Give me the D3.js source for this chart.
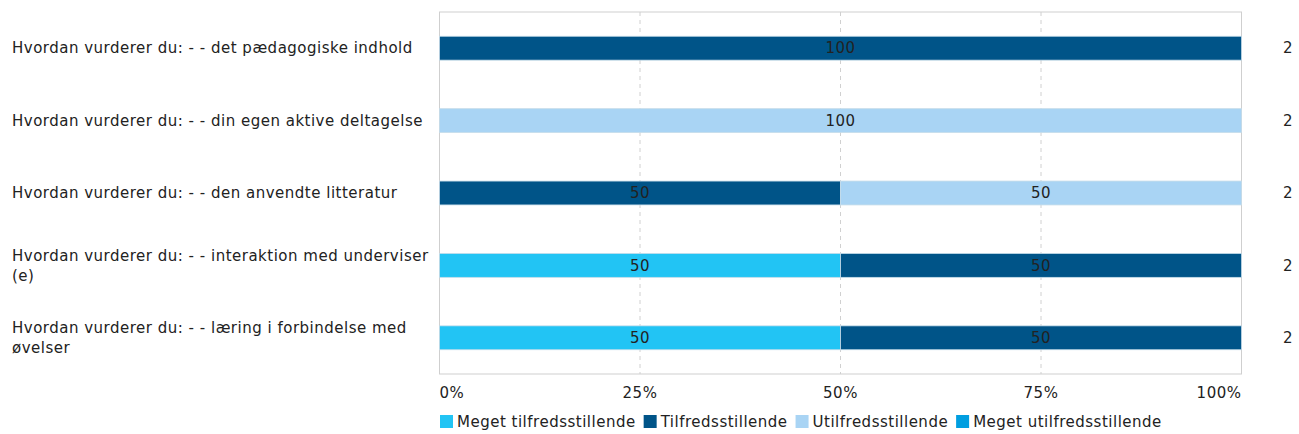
<!DOCTYPE html>
<html><head><meta charset="utf-8">
<script src="https://cdn.jsdelivr.net/npm/d3@7/dist/d3.min.js"></script>
<style>
body{margin:0;background:#fff;}
text{letter-spacing:0.5px;}
</style></head>
<body><svg id="c" width="1299" height="434" font-family="DejaVu Sans" fill="#222"></svg>
<script>
const categories = [
  "Hvordan vurderer du: - - det pædagogiske indhold",
  "Hvordan vurderer du: - - din egen aktive deltagelse",
  "Hvordan vurderer du: - - den anvendte litteratur",
  "Hvordan vurderer du: - - interaktion med underviser (e)",
  "Hvordan vurderer du: - - læring i forbindelse med øvelser"
];
const seriesNames = ["Meget tilfredsstillende","Tilfredsstillende","Utilfredsstillende","Meget utilfredsstillende"];
const seriesColors = ["#22c4f4","#005488","#a9d4f4","#009ee0"];
const megetTilfreds = [0,0,0,50,50];
const tilfreds = [100,0,50,50,50];
const utilfreds = [0,100,50,0,0];
const megetUtilfreds = [0,0,0,0,0];
const counts = [2,2,2,2,2];
const tickValues = [0,25,50,75,100];
const tickLabels = ["0%","25%","50%","75%","100%"];

const values = [megetTilfreds, tilfreds, utilfreds, megetUtilfreds];
const svg = d3.select("#c");
const L = 439.5, R = 1241.5, T = 12, B = 374;
const x = d3.scaleLinear().domain([0,100]).range([L,R]);
const y = d3.scaleBand().domain(categories).range([T,B]).paddingInner(0.67).paddingOuter(0.335);
const fs = 15;

svg.append("rect").attr("x",L).attr("y",T).attr("width",R-L).attr("height",B-T)
  .attr("fill","none").attr("stroke","#cfcfcf").attr("stroke-width",1);
svg.append("g").selectAll("line").data(tickValues.slice(1,-1)).join("line")
  .attr("x1",d=>x(d)).attr("x2",d=>x(d)).attr("y1",T).attr("y2",B)
  .attr("stroke","#d0d0d0").attr("stroke-dasharray","4,4");

const rows = categories.map((c,i)=>{
  let acc=0; const segs=[];
  values.forEach((s,k)=>{ const v=s[i]; if(v>0){segs.push({cat:c,k,v,x0:acc,x1:acc+v});} acc+=v; });
  return segs;
}).flat();

svg.append("g").selectAll("rect").data(rows).join("rect")
  .attr("x",d=>x(d.x0)).attr("width",d=>x(d.x1)-x(d.x0))
  .attr("y",d=>y(d.cat)).attr("height",y.bandwidth())
  .attr("fill",d=>seriesColors[d.k]).attr("stroke","#c6dcea").attr("stroke-width",0.8);

svg.append("g").selectAll("text").data(rows).join("text")
  .attr("x",d=>x((d.x0+d.x1)/2)).attr("y",d=>y(d.cat)+y.bandwidth()/2)
  .attr("dy","0.35em").attr("text-anchor","middle").attr("font-size",fs).text(d=>d.v);

const maxW = 428;
categories.forEach(c=>{
  const t = svg.append("text").attr("x",12).attr("font-size",fs);
  const words = c.split(" ");
  let lines=[]; let line=[];
  const tmp = t.append("tspan");
  words.forEach(w=>{
    line.push(w); tmp.text(line.join(" "));
    if(tmp.node().getComputedTextLength()>maxW && line.length>1){ line.pop(); lines.push(line.join(" ")); line=[w]; }
  });
  lines.push(line.join(" "));
  tmp.remove();
  const lh = 20, cy = y(c)+y.bandwidth()/2;
  const start = cy - (lines.length-1)*lh/2;
  lines.forEach((l,i)=>t.append("tspan").attr("x",12).attr("y",start+i*lh).attr("dy","0.35em").text(l));
});

svg.append("g").selectAll("text").data(categories).join("text")
  .attr("x",1288).attr("y",c=>y(c)+y.bandwidth()/2).attr("dy","0.35em")
  .attr("text-anchor","middle").attr("font-size",fs).text((c,i)=>counts[i]);

svg.append("g").selectAll("text").data(tickValues).join("text")
  .attr("x",d=>x(d)).attr("y",393).attr("dy","0.35em")
  .attr("text-anchor",(d,i)=>i===0?"start":(i===tickValues.length-1?"end":"middle"))
  .attr("font-size",fs).text((d,i)=>tickLabels[i]);

let lx = 440;
seriesNames.forEach((n,k)=>{
  svg.append("rect").attr("x",lx).attr("y",415).attr("width",13).attr("height",13).attr("fill",seriesColors[k]);
  const t = svg.append("text").attr("x",lx+17).attr("y",422).attr("dy","0.35em").attr("font-size",fs).text(n);
  lx += 17 + t.node().getComputedTextLength() + 8;
});
</script></body></html>
